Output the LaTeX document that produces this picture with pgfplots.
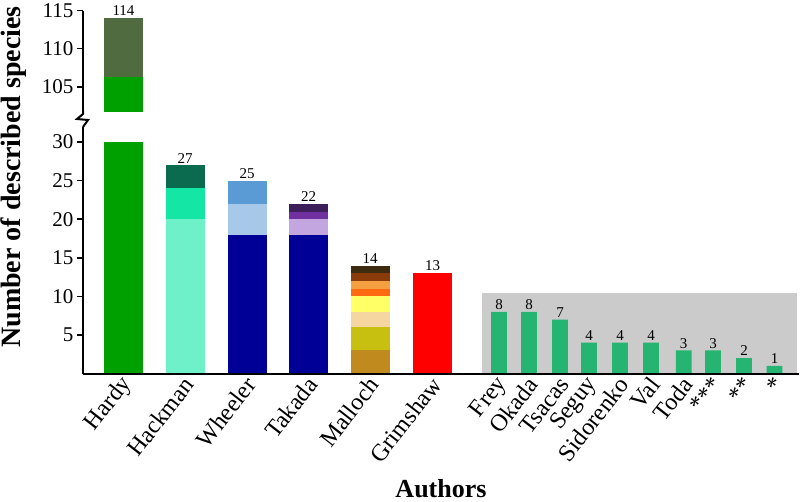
\documentclass[border=0pt]{standalone}
\usepackage{pgfplots}
\pgfplotsset{compat=1.18}
\usepackage{fontspec}
\setmainfont{Liberation Serif}
\definecolor{hgreen}{HTML}{00A000}
\definecolor{holive}{HTML}{4F6B3F}
\definecolor{hklight}{HTML}{6EF0C8}
\definecolor{hkmed}{HTML}{14E6A5}
\definecolor{hkdark}{HTML}{0A6B4F}
\definecolor{navy}{HTML}{000096}
\definecolor{wlight}{HTML}{A8C8EA}
\definecolor{wmed}{HTML}{5B9BD5}
\definecolor{tlav}{HTML}{C3A5E0}
\definecolor{tpur}{HTML}{7030A0}
\definecolor{tdark}{HTML}{3C1F5A}
\definecolor{m1}{HTML}{C08A1E}
\definecolor{m2}{HTML}{C8C010}
\definecolor{m3}{HTML}{F5D5A0}
\definecolor{m4}{HTML}{FFFF66}
\definecolor{m5}{HTML}{FF6A10}
\definecolor{m6}{HTML}{F5A040}
\definecolor{m7}{HTML}{8B3A0A}
\definecolor{m8}{HTML}{3D2B10}
\definecolor{sgreen}{HTML}{26B473}
\definecolor{graybox}{HTML}{CBCBCB}
\begin{document}
\begin{tikzpicture}[x=1pt,y=1pt]
\useasboundingbox (0,0) rectangle (800,-501);
\pgfplotsset{
  common/.style={
    scale only axis, width=716pt, xmin=83, xmax=799,
    axis line style={line width=2pt, black},
    tick style={line width=1.5pt, black},
    tick align=outside, major tick length=6pt,
    ytick pos=left,
    y tick label style={font=\fontsize{21}{21}\selectfont},
    /pgf/number format/assume math mode=true,
    axis on top,
    every node near coord/.append style={font=\fontsize{15}{15}\selectfont, inner sep=2pt},
  },
  bw/.style={ybar, bar shift=0pt, bar width=#1, draw=none},
}
% top axis
\begin{axis}[common, at={(83pt,-10.5pt)}, anchor=north west, height=101.5pt,
  ymin=101.7, ymax=115, axis y line*=left, axis x line=none,
  ytick={105,110,115}, xtick=\empty]
\addplot[bw=39pt, fill=holive, nodes near coords] coordinates {(123.5,114)};
\addplot[bw=39pt, fill=hgreen] coordinates {(123.5,106.3)};
\end{axis}
% bottom axis
\begin{axis}[common, at={(83pt,-373.6pt)}, anchor=south west, height=247pt,
  ymin=0, ymax=32, axis lines*=left,
  ytick={5,10,15,20,25,30},
  xtick={123.5,185,247,308.5,370,432.5,499,529,560,589,620,651,683.7,713,744,774.5},
  xticklabels={Hardy,Hackman,Wheeler,Takada,Malloch,Grimshaw,Frey,Okada,Tsacas,Seguy,Sidorenko,Val,Toda,{***},{**},{*}},
  x tick style={draw=none},
  x tick label style={xshift=6pt, yshift=2pt, rotate=52, anchor=east, font=\fontsize{24}{24}\selectfont}]
\fill[graybox] (axis cs:482,0) rectangle (axis cs:797,10.5);
% Hardy
\addplot[bw=39pt, fill=hgreen] coordinates {(123.5,30)};
% Hackman
\addplot[bw=39pt, fill=hkdark, nodes near coords] coordinates {(185,27)};
\addplot[bw=39pt, fill=hkmed] coordinates {(185,24)};
\addplot[bw=39pt, fill=hklight] coordinates {(185,20)};
% Wheeler
\addplot[bw=39pt, fill=wmed, nodes near coords] coordinates {(247,25)};
\addplot[bw=39pt, fill=wlight] coordinates {(247,22)};
\addplot[bw=39pt, fill=navy] coordinates {(247,18)};
% Takada
\addplot[bw=39pt, fill=tdark, nodes near coords] coordinates {(308.5,22)};
\addplot[bw=39pt, fill=tpur] coordinates {(308.5,21)};
\addplot[bw=39pt, fill=tlav] coordinates {(308.5,20)};
\addplot[bw=39pt, fill=navy] coordinates {(308.5,18)};
% Malloch
\addplot[bw=39pt, fill=m8, nodes near coords] coordinates {(370,14)};
\addplot[bw=39pt, fill=m7] coordinates {(370,13)};
\addplot[bw=39pt, fill=m6] coordinates {(370,12)};
\addplot[bw=39pt, fill=m5] coordinates {(370,11)};
\addplot[bw=39pt, fill=m4] coordinates {(370,10)};
\addplot[bw=39pt, fill=m3] coordinates {(370,8)};
\addplot[bw=39pt, fill=m2] coordinates {(370,6)};
\addplot[bw=39pt, fill=m1] coordinates {(370,3)};
% Grimshaw
\addplot[bw=39pt, fill=red, nodes near coords] coordinates {(432.5,13)};
% others
\addplot[bw=15.7pt, fill=sgreen, nodes near coords] coordinates {
(499,8) (529,8) (560,7) (589,4) (620,4) (651,4) (683.7,3) (713,3) (744,2) (774.5,1)};
\end{axis}
\draw[line width=2pt, line join=miter] (83,-111) -- (83,-114) -- (77,-119) -- (88,-120) -- (83,-127);
\node[font=\bfseries\fontsize{28}{28}\selectfont, rotate=90] at (14,-177) {Number of described species};
\node[font=\bfseries\fontsize{26}{26}\selectfont, anchor=base] at (441,-497) {Authors};
\end{tikzpicture}
\end{document}
